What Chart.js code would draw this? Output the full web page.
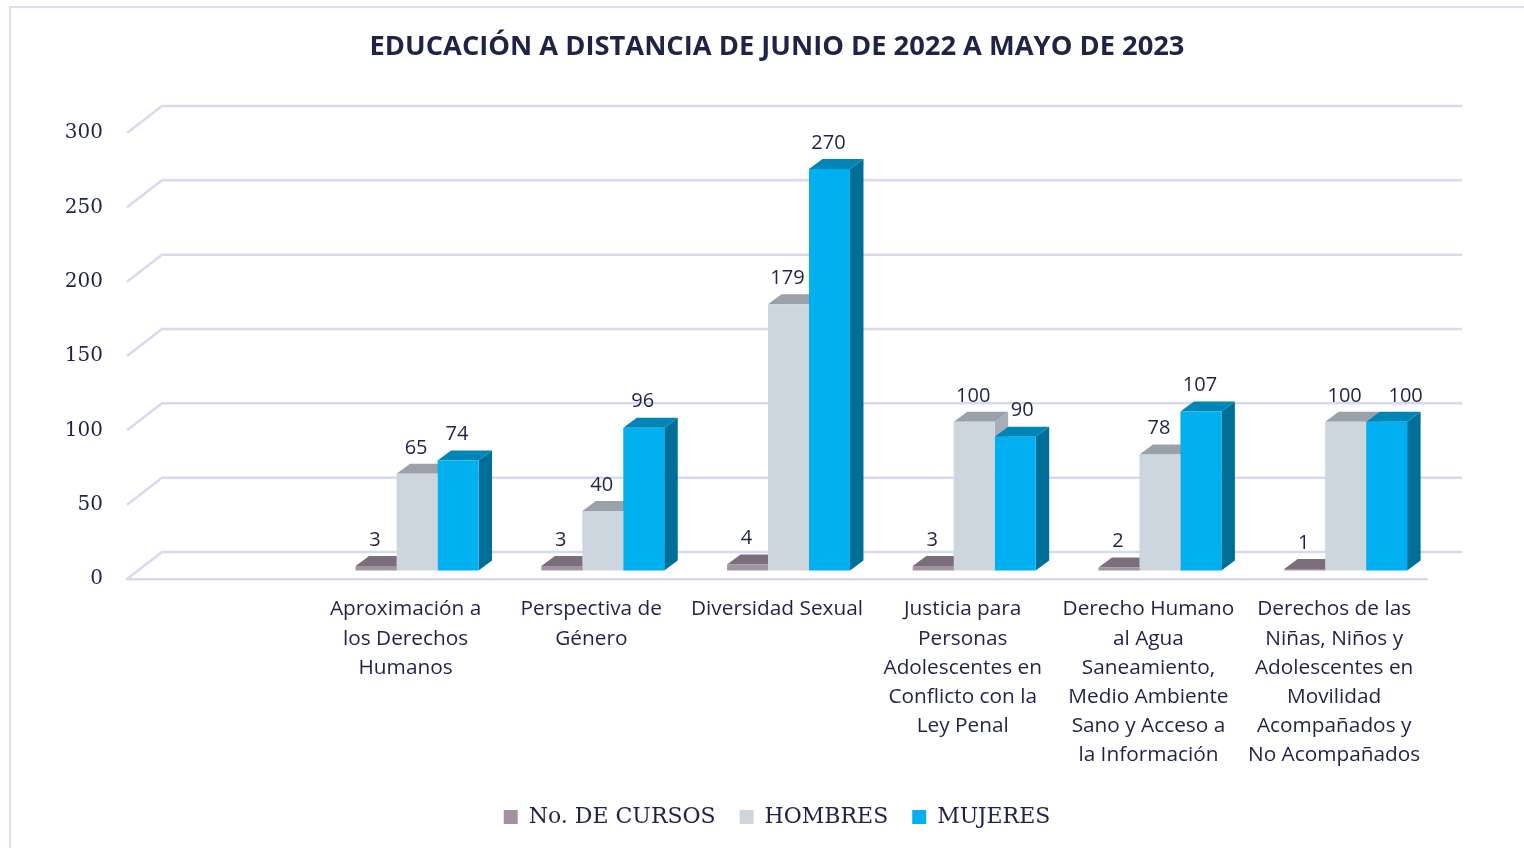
<!DOCTYPE html>
<html>
<head>
<meta charset="utf-8">
<script src="https://cdn.jsdelivr.net/npm/chart.js@4.4.0/dist/chart.umd.min.js"></script>
<style>
  html, body { margin: 0; padding: 0; background: #fff; overflow: hidden; }
  #wrap { position: relative; width: 1524px; height: 848px; }
  #marco { position: absolute; left: 9px; top: 6px; width: 1600px; height: 900px; border: 2px solid #dcdff0; box-sizing: border-box; }
  #grafica { position: absolute; left: 0; top: 0; }
</style>
</head>
<body>
<div id="wrap">
  <div id="marco"></div>
  <canvas id="grafica" width="1524" height="848"></canvas>
</div>
<script>
// Datos de la gráfica
const categorias = [
    '',
    ['Aproximación a', 'los Derechos', 'Humanos'],
    ['Perspectiva de', 'Género'],
    ['Diversidad Sexual'],
    ['Justicia para', 'Personas', 'Adolescentes en', 'Conflicto con la', 'Ley Penal'],
    ['Derecho Humano', 'al Agua', 'Saneamiento,', 'Medio Ambiente', 'Sano y Acceso a', 'la Información'],
    ['Derechos de las', 'Niñas, Niños y', 'Adolescentes en', 'Movilidad', 'Acompañados y', 'No Acompañados']
];
const cursos = [null, 3, 3, 4, 3, 2, 1];
const hombres = [null, 65, 40, 179, 100, 78, 100];
const mujeres = [null, 74, 96, 270, 90, 107, 100];
const ticksY = [0, 50, 100, 150, 200, 250, 300];

const colorTexto = '#1f2345';
const colorRejilla = '#d7daee';

// Colores de cada cara: frente, arriba, lado
const caras = [
    { frente: '#a193a1', arriba: '#7b6e7a', lado: '#665b65' },
    { frente: '#cdd5de', arriba: '#9ba1a8', lado: '#a7aeb6' },
    { frente: '#00b0f0', arriba: '#0086b6', lado: '#006f98' }
];

// Algunas etiquetas de MUJERES están corridas a la derecha en el original
const corrimientoMujeres = { 4: 8, 6: 20 };

// Profundidad del "piso" y de las barras
const fondo = { dx: 35, dy: -27 };
const plano = { dx: 11.5, dy: -8.5 };
const prof = { dx: 13.5, dy: -10 };

const efecto3d = {
    id: 'efecto3d',
    beforeDatasetsDraw(chart) {
        const ctx = chart.ctx;
        const y = chart.scales.y;
        const area = chart.chartArea;

        // Rejilla del fondo con sus diagonales
        ctx.save();
        ctx.strokeStyle = colorRejilla;
        ctx.lineWidth = 2.5;
        ticksY.forEach(v => {
            const py = y.getPixelForValue(v);
            ctx.beginPath();
            ctx.moveTo(area.left, py);
            ctx.lineTo(area.left + fondo.dx, py + fondo.dy);
            ctx.lineTo(area.right + fondo.dx, py + fondo.dy);
            ctx.stroke();
        });
        ctx.restore();

        // Desplazar las barras hacia el plano medio
        ctx.save();
        ctx.translate(plano.dx, plano.dy);

        // Caras superiores y laterales, de izquierda a derecha
        const n = chart.data.labels.length;
        for (let i = 0; i < n; i++) {
            chart.data.datasets.forEach((ds, d) => {
                if (ds.data[i] == null) return;
                const bar = chart.getDatasetMeta(d).data[i];
                const l = bar.x - bar.width / 2;
                const r = bar.x + bar.width / 2;
                const t = bar.y;
                const b = bar.base;

                ctx.fillStyle = caras[d].lado;
                ctx.beginPath();
                ctx.moveTo(r, t);
                ctx.lineTo(r + prof.dx, t + prof.dy);
                ctx.lineTo(r + prof.dx, b + prof.dy);
                ctx.lineTo(r, b);
                ctx.closePath();
                ctx.fill();

                ctx.fillStyle = caras[d].arriba;
                ctx.beginPath();
                ctx.moveTo(l, t);
                ctx.lineTo(r, t);
                ctx.lineTo(r + prof.dx, t + prof.dy);
                ctx.lineTo(l + prof.dx, t + prof.dy);
                ctx.closePath();
                ctx.fill();
            });
        }
    },
    afterDatasetsDraw(chart) {
        const ctx = chart.ctx;
        // Etiquetas de valores
        ctx.fillStyle = colorTexto;
        ctx.font = '20px "Open Sans"';
        ctx.textAlign = 'center';
        ctx.textBaseline = 'middle';
        chart.data.datasets.forEach((ds, d) => {
            chart.getDatasetMeta(d).data.forEach((bar, i) => {
                if (ds.data[i] == null) return;
                let dx = -1;
                if (d === 2 && corrimientoMujeres[i]) dx += corrimientoMujeres[i];
                ctx.fillText(ds.data[i], bar.x + dx, bar.y - 26);
            });
        });
        ctx.restore();
    }
};

const ctx = document.getElementById('grafica').getContext('2d');
new Chart(ctx, {
    type: 'bar',
    data: {
        labels: categorias,
        datasets: [
            { label: 'No. DE CURSOS', data: cursos, backgroundColor: caras[0].frente },
            { label: 'HOMBRES', data: hombres, backgroundColor: caras[1].frente },
            { label: 'MUJERES', data: mujeres, backgroundColor: caras[2].frente }
        ]
    },
    options: {
        responsive: false,
        animation: false,
        events: [],
        datasets: {
            bar: {
                categoryPercentage: 0.662,
                barPercentage: 1,
                borderWidth: 0,
                clip: false
            }
        },
        layout: {
            padding: { left: 0, right: 97, top: 0, bottom: 10 }
        },
        plugins: {
            title: {
                display: true,
                text: 'EDUCACIÓN A DISTANCIA DE JUNIO DE 2022 A MAYO DE 2023',
                color: colorTexto,
                fullSize: false,
                font: { family: '"Open Sans"', size: 27.3, weight: 'bold', lineHeight: 1.2 },
                padding: { top: 31, bottom: 69.2 }
            },
            legend: {
                position: 'bottom',
                fullSize: false,
                labels: {
                    color: colorTexto,
                    font: { family: '"DejaVu Serif"', size: 22 },
                    boxWidth: 14,
                    boxHeight: 14,
                    padding: 24
                }
            },
            tooltip: { enabled: false }
        },
        scales: {
            x: {
                grid: { display: false, drawTicks: false },
                border: { display: true, color: colorRejilla, width: 2.5 },
                ticks: {
                    color: colorTexto,
                    font: { family: '"Open Sans"', size: 20.8, lineHeight: 1.4 },
                    padding: 16,
                    autoSkip: false,
                    maxRotation: 0,
                    minRotation: 0
                },
                afterFit(scale) { scale.height = 203; }
            },
            y: {
                min: 0,
                max: 300,
                grid: { display: false, drawTicks: false },
                border: { display: false },
                ticks: {
                    stepSize: 50,
                    color: colorTexto,
                    font: { family: '"DejaVu Serif"', size: 20 },
                    padding: 24
                },
                afterFit(scale) { scale.width = 127; }
            }
        }
    },
    plugins: [efecto3d]
});
</script>
</body>
</html>
